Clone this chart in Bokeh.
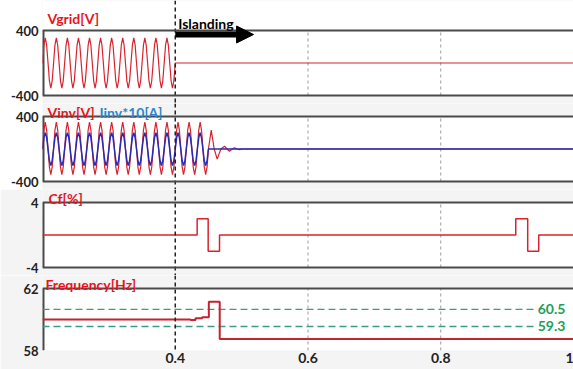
import numpy as np
from bokeh.plotting import figure
from bokeh.layouts import column
from bokeh.models import Range1d, FixedTicker, Label, Arrow, NormalHead, Span, BoxAnnotation
from bokeh.embed import file_html
from bokeh.resources import INLINE

# ---------------- data ----------------
T0 = 0.2            # first sample time [s]
DT = 1.0 / 480.0    # sample step (8 samples per 60 Hz cycle)

# Grid voltage [V], 0.2 s .. 0.4 s, then zero after islanding
VGRID = [
    0, 219, 310, 219, 0, -219, -310, -219,
    0, 219, 310, 219, 0, -219, -310, -219,
    0, 219, 310, 219, 0, -219, -310, -219,
    0, 219, 310, 219, 0, -219, -310, -219,
    0, 219, 310, 219, 0, -219, -310, -219,
    0, 219, 310, 219, 0, -219, -310, -219,
    0, 219, 310, 219, 0, -219, -310, -219,
    0, 219, 310, 219, 0, -219, -310, -219,
    0, 219, 310, 219, 0, -219, -310, -219,
    0, 219, 310, 219, 0, -219, -310, -219,
    0, 219, 310, 219, 0, -219, -310, -219,
    0, 219, 310, 219, 0, -219, -310, -219,
    0,
]
VGRID_AFTER_T = [0.4, 1.0]
VGRID_AFTER_V = [0, 0]

# Inverter voltage [V], 0.2 s .. 0.45 s
VINV = [
    0, 233, 330, 233, 0, -223, -316, -223,
    0, 233, 330, 233, 0, -223, -316, -223,
    0, 233, 330, 233, 0, -223, -316, -223,
    0, 233, 330, 233, 0, -223, -316, -223,
    0, 233, 330, 233, 0, -223, -316, -223,
    0, 233, 330, 233, 0, -223, -316, -223,
    0, 233, 330, 233, 0, -223, -316, -223,
    0, 233, 330, 233, 0, -223, -316, -223,
    0, 233, 330, 233, 0, -223, -316, -223,
    0, 233, 330, 233, 0, -223, -316, -223,
    0, 233, 330, 233, 0, -223, -316, -223,
    0, 233, 330, 233, 0, -223, -316, -223,
    0, 233, 330, 233, 0, -223, -316, -223,
    0, 233, 330, 233, 0, -223, -316, -223,
    0, 233, 330, 233, 0, -223, -316, -223,
    0,
]
# decaying oscillation after the inverter stops
VINV_TAIL_T = [0.4542, 0.4587, 0.4632, 0.4687, 0.4742, 0.4780, 0.4817,
               0.4855, 0.4893, 0.4930, 0.4968, 0.5020, 1.0]
VINV_TAIL_V = [233, 0, -125, 0, 35, 0, -30, 0, 15, 0, -8, 0, 0]

# Inverter current x10 [A], 0.2 s .. 0.45 s, then zero
IINV = [
    0, 141, 200, 141, 0, -145, -205, -145,
    0, 141, 200, 141, 0, -145, -205, -145,
    0, 141, 200, 141, 0, -145, -205, -145,
    0, 141, 200, 141, 0, -145, -205, -145,
    0, 141, 200, 141, 0, -145, -205, -145,
    0, 141, 200, 141, 0, -145, -205, -145,
    0, 141, 200, 141, 0, -145, -205, -145,
    0, 141, 200, 141, 0, -145, -205, -145,
    0, 141, 200, 141, 0, -145, -205, -145,
    0, 141, 200, 141, 0, -145, -205, -145,
    0, 141, 200, 141, 0, -145, -205, -145,
    0, 141, 200, 141, 0, -145, -205, -145,
    0, 141, 200, 141, 0, -145, -205, -145,
    0, 141, 200, 141, 0, -145, -205, -145,
    0, 141, 200, 141, 0, -145, -205, -145,
    0,
]
IINV_TAIL_T = [1.0]
IINV_TAIL_V = [0]

# Chopping fraction Cf [%] (step after each time)
CF_T = [0.2, 0.433, 0.4496, 0.4667, 0.913, 0.931, 0.9476, 1.0]
CF_V = [0, 2, -2, 0, 2, -2, 0, 0]

# Frequency [Hz] (step after each time)
FREQ_T = [0.2, 0.423, 0.4305, 0.4406, 0.4506, 0.467, 1.0]
FREQ_V = [60.0, 59.97, 60.08, 60.14, 61.15, 58.74, 58.74]

# frequency trip limits
LIMIT_V = [60.65, 59.55]
LIMIT_TEXT = ["60.5", "59.3"]
LIMIT_X = [0.2, 0.94]

X_TICKS = [0.4, 0.6, 0.8, 1.0]
X_TICK_TEXT = ["0.4", "0.6", "0.8", "1"]
ISLAND_T = 0.4
ARROW_END_T = 0.518

# ---------------- styling / layout ----------------
RED = "#d8232f"
BLUE = "#2a2ab5"
TXT_RED = "#e8141c"
TXT_BLUE = "#2a86cf"
GREEN_TXT = "#1f9e58"
GREEN_LINE = "#3b9c80"
EDGE = "#4a4a4a"
BAND = "#f4f4f4"
FONT = "Lato"
W = 573
LEFT = 42

x_range = Range1d(0.2, 1.0)


def panel(height, pad_top, panel_px, pad_bot, vmin, vmax, ylabels, ygrid,
          border_bottom=0, border_fill="white", white_top=False):
    """Figure whose frame covers the whole canvas; the drawn panel is vmin..vmax
    occupying panel_px pixels, with pad_top / pad_bot pixels of room around it."""
    upp = (vmax - vmin) / panel_px
    yr = Range1d(vmin - pad_bot * upp, vmax + pad_top * upp)
    p = figure(width=W, height=height, x_range=x_range, y_range=yr,
               output_backend="svg", toolbar_location=None,
               min_border_left=LEFT, min_border_right=0,
               min_border_top=0, min_border_bottom=border_bottom,
               background_fill_color=BAND, border_fill_color=border_fill)
    p.outline_line_color = None
    p.add_layout(BoxAnnotation(bottom=vmin, top=None if white_top else vmax,
                               fill_color="white", fill_alpha=1.0, line_color=None,
                               level="underlay"))
    p.yaxis.ticker = FixedTicker(ticks=[vmin, vmax])
    p.yaxis.major_label_overrides = {vmin: ylabels[0], vmax: ylabels[1]}
    p.yaxis.major_tick_line_color = None
    p.yaxis.minor_tick_line_color = None
    p.yaxis.major_tick_out = 0
    p.yaxis.major_label_standoff = 4
    p.yaxis.axis_line_color = None
    p.yaxis.major_label_text_font = FONT
    p.yaxis.major_label_text_font_style = "bold"
    p.yaxis.major_label_text_font_size = "13px"
    p.yaxis.major_label_text_color = "#222222"
    p.ygrid.ticker = FixedTicker(ticks=ygrid)
    p.ygrid.grid_line_color = "#8a8a8a"
    p.ygrid.grid_line_dash = "2 2"
    p.ygrid.grid_line_width = 1
    p.xgrid.visible = False
    p.xaxis.visible = False
    # vertical grid only inside the panel
    p.segment(x0=X_TICKS[1:3], y0=[vmin] * 2, x1=X_TICKS[1:3], y1=[vmax] * 2,
              line_color="#9a9a9a", line_dash="3 3", line_width=1)
    # left edge of the panel
    p.segment(x0=[0.2], y0=[vmin], x1=[0.2], y1=[vmax], line_color=EDGE, line_width=4)
    # islanding instant
    p.add_layout(Span(location=ISLAND_T, dimension="height", line_color="#222222",
                      line_dash="4 3", line_width=1.5))
    return p, upp


def title(p, text, color, y, dx):
    p.add_layout(Label(x=0.2, y=y, x_offset=dx, text=text,
                       text_color=color, text_font=FONT, text_font_style="bold",
                       text_font_size="14px", text_baseline="middle",
                       text_align="left"))


def edges(p, locs):
    for v in locs:
        p.add_layout(Span(location=v, dimension="width", line_color=EDGE, line_width=2))


# ---- panel 1 : grid voltage  (canvas 0..103, panel 30..95)
p1, u1 = panel(103, 30, 65, 8, -400, 400, ["-400", "400"], [-200, 0, 200], white_top=True)
edges(p1, [-400, 400])
tg = T0 + DT * np.arange(len(VGRID))
p1.line(list(tg) + VGRID_AFTER_T, VGRID + VGRID_AFTER_V, line_color=RED, line_width=1.2)
title(p1, "Vgrid[V]", TXT_RED, 400 + 12 * u1, 5)
p1.add_layout(Arrow(end=NormalHead(size=17, fill_color="black", line_color="black"),
                    x_start=ISLAND_T, y_start=400 - 4 * u1,
                    x_end=ARROW_END_T, y_end=400 - 4 * u1,
                    line_color="black", line_width=6))
p1.add_layout(Label(x=ISLAND_T, y=400 + 7 * u1, x_offset=3, text="Islanding",
                    text_color="black", text_font=FONT, text_font_style="bold",
                    text_font_size="14px", text_baseline="middle"))

# ---- panel 2 : inverter voltage & current  (canvas 103..189, panel 116..181)
p2, u2 = panel(86, 13, 65, 8, -400, 400, ["-400", "400"], [-200, 0, 200])
edges(p2, [-400, 400])
tv = T0 + DT * np.arange(len(VINV))
p2.line(list(tv) + VINV_TAIL_T, VINV + VINV_TAIL_V, line_color=RED, line_width=1.2)
ti = T0 + DT * np.arange(len(IINV))
p2.line(list(ti) + IINV_TAIL_T, IINV + IINV_TAIL_V, line_color=BLUE, line_width=1.5)
title(p2, "Vinv[V]", TXT_RED, 400 + 4.5 * u2, 5)
title(p2, "Iinv*10[A]", TXT_BLUE, 400 + 4.5 * u2, 57)

# ---- panel 3 : Cf  (canvas 189..275, panel 202..267)
p3, u3 = panel(86, 13, 65, 8, -4, 4, ["-4", "4"], [-2, 0, 2], border_fill=BAND)
edges(p3, [-4, 4])
p3.step(CF_T, CF_V, mode="after", line_color=RED, line_width=1.5)
title(p3, "Cf[%]", TXT_RED, 4 + 4.5 * u3, 6)

# ---- panel 4 : frequency  (canvas 275..369, panel 288..350)
p4, u4 = panel(94, 13, 62, 0, 58, 62, ["58", "62"], [59, 60, 61],
               border_bottom=19, border_fill=BAND)
edges(p4, [62])
for v, s in zip(LIMIT_V, LIMIT_TEXT):
    p4.line(LIMIT_X, [v, v], line_color=GREEN_LINE, line_dash="7 4", line_width=1.3)
    p4.add_layout(Label(x=LIMIT_X[1], y=v, x_offset=4, text=s, text_color=GREEN_TXT,
                        text_font=FONT, text_font_style="bold", text_font_size="14px",
                        text_baseline="middle"))
p4.step(FREQ_T, FREQ_V, mode="after", line_color="#c42330", line_width=2)
title(p4, "Frequency[Hz]", TXT_RED, 62 + 4.5 * u4, 3)
p4.xaxis.visible = True
p4.xaxis.ticker = FixedTicker(ticks=X_TICKS)
p4.xaxis.major_label_overrides = {t: s for t, s in zip(X_TICKS, X_TICK_TEXT)}
p4.xaxis.axis_line_color = None
p4.xaxis.major_tick_line_color = None
p4.xaxis.minor_tick_line_color = None
p4.xaxis.major_tick_out = 0
p4.xaxis.major_label_standoff = 2
p4.xaxis.major_label_text_font = FONT
p4.xaxis.major_label_text_font_style = "bold"
p4.xaxis.major_label_text_font_size = "14px"
p4.xaxis.major_label_text_color = "#222222"

layout = column(p1, p2, p3, p4, spacing=0)
open("out.html", "w").write(file_html(layout, INLINE))
